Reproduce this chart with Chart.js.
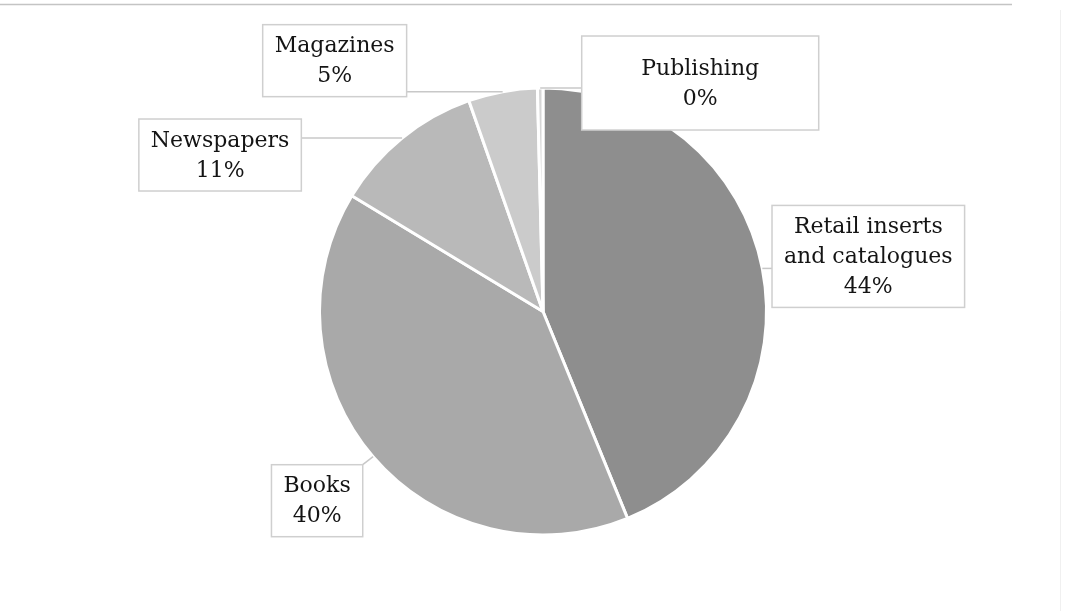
<!DOCTYPE html>
<html>
<head>
<meta charset="utf-8">
<script src="https://cdn.jsdelivr.net/npm/chart.js@4.4.0/dist/chart.umd.min.js"></script>
<style>
	html, body { margin: 0; padding: 0; background: #ffffff; }
	#chartWrap { position: relative; width: 1083px; height: 611px; }
</style>
</head>
<body>
<div id="chartWrap"><canvas id="pieGraphDiv"></canvas></div>
<script>

//
//Data
//
var categories = ["Retail inserts\nand catalogues", "Books", "Newspapers", "Magazines", "Publishing"];
var shares = [44, 40, 11, 5, 0.4];
var shareLabels = ["44%", "40%", "11%", "5%", "0%"];
var sliceColors = ["#8e8e8e", "#a9a9a9", "#b9b9b9", "#cbcbcb", "#d6d6d6"];

//offset of each label box centre from the point on the rim at the slice middle
var labelOffsets = [[106, -12], [-56, 44], [-182, 17], [-168, -31], [160, -5]];
//minimum box size (the publishing box was stretched in the original)
var labelMinSize = [[0, 0], [0, 0], [0, 0], [0, 0], [237, 94]];

var labelFont = "22px 'DejaVu Serif', serif";
var lineHeight = 30;

//
//Plugins
//
var frameLines = {
	id: "frameLines",
	beforeDraw: function(chart) {
		var ctx = chart.ctx;
		ctx.save();
		ctx.strokeStyle = "#c4c4c4";
		ctx.lineWidth = 1.5;
		ctx.beginPath();
		ctx.moveTo(0, 4.5);
		ctx.lineTo(1012, 4.5);
		ctx.stroke();
		ctx.strokeStyle = "#f0f0f0";
		ctx.lineWidth = 1;
		ctx.beginPath();
		ctx.moveTo(1060.5, 10);
		ctx.lineTo(1060.5, 611);
		ctx.stroke();
		ctx.restore();
	}
};

var boxLabels = {
	id: "boxLabels",
	afterDatasetsDraw: function(chart) {
		var ctx = chart.ctx;
		var arcs = chart.getDatasetMeta(0).data;
		ctx.save();
		ctx.font = labelFont;
		ctx.textAlign = "center";
		ctx.textBaseline = "middle";

		arcs.forEach(function(arc, i) {
			var mid = (arc.startAngle + arc.endAngle) / 2;
			var ax = arc.x + Math.cos(mid) * arc.outerRadius;
			var ay = arc.y + Math.sin(mid) * arc.outerRadius;
			var bx = ax + labelOffsets[i][0];
			var by = ay + labelOffsets[i][1];

			var lines = categories[i].split("\n");
			lines.push(shareLabels[i]);
			var w = 0;
			lines.forEach(function(t) { w = Math.max(w, ctx.measureText(t).width); });
			w = Math.max(w + 24, labelMinSize[i][0]);
			var h = Math.max(lines.length * lineHeight + 12, labelMinSize[i][1]);
			var left = bx - w / 2;
			var top = by - h / 2;

			//leader line from the box edge to the rim
			var ex = Math.max(left, Math.min(ax, left + w));
			var ey = Math.max(top, Math.min(ay, top + h));
			ctx.strokeStyle = "#c8c8c8";
			ctx.lineWidth = 1.5;
			ctx.beginPath();
			ctx.moveTo(ex, ey);
			ctx.lineTo(ax, ay);
			ctx.stroke();

			ctx.fillStyle = "#ffffff";
			ctx.fillRect(left, top, w, h);
			ctx.strokeStyle = "#cfcfcf";
			ctx.strokeRect(left, top, w, h);

			ctx.fillStyle = "#141414";
			var textTop = by - (lines.length * lineHeight) / 2;
			lines.forEach(function(t, k) {
				ctx.fillText(t, bx, textTop + lineHeight / 2 + k * lineHeight + 1);
			});
		});
		ctx.restore();
	}
};

//
//Chart
//
function createSharePie()
{
	var ctx = document.getElementById("pieGraphDiv");

	const data = {
		labels: categories,
		datasets: [{
			data: shares,
			backgroundColor: sliceColors,
			borderColor: "#ffffff",
			borderWidth: 3
		}]
	};

	const options = {
		responsive: true,
		maintainAspectRatio: false,
		animation: false,
		layout: { padding: { left: 318, right: 315, top: 86, bottom: 74 } },
		plugins: {
			legend: { display: false },
			tooltip: { enabled: false }
		}
	};

	var myPieChart = new Chart(ctx, {
		type: 'pie',
		data: data,
		options: options,
		plugins: [frameLines, boxLabels]
	});
}

createSharePie();
</script>
</body>
</html>
